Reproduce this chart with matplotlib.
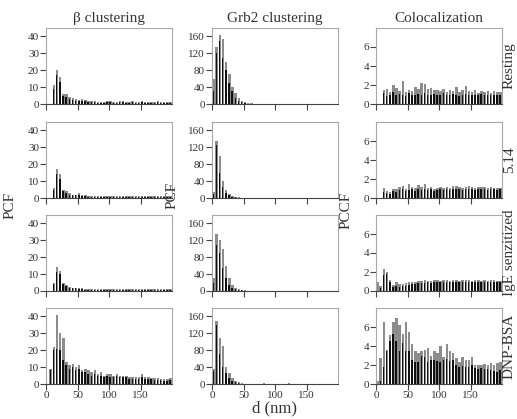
import numpy as np
import matplotlib
matplotlib.use("Agg")
import matplotlib.pyplot as plt

plt.rcParams["font.family"] = ["Liberation Serif", "DejaVu Serif"]

# distance bins (nm), 5 nm wide
bin_width = 5
d_centers = np.arange(2.5, 200, bin_width)

col_titles = ["\u03b2 clustering", "Grb2 clustering", "Colocalization"]
row_names = ["Resting", "5.14", "IgE senzitized", "DNP-BSA"]
col_ylims = [45, 180, 8]
col_yticks = [[0, 10, 20, 30, 40], [0, 40, 80, 120, 160], [0, 2, 4, 6]]
x_ticks = [0, 50, 100, 150]

# ---- beta clustering (PCF) ----
beta_rest = [0, 0, 9, 17, 13, 5, 4, 3, 2.5, 2, 1.5, 2, 1.5, 1, 1, 1, 0.8, 0.8, 0.8, 1,
             1, 0.8, 0.8, 1, 1, 0.8, 0.8, 1, 0.8, 0.8, 1, 0.8, 0.8, 0.8, 0.8, 1, 0.8, 0.8, 0.8, 0.8]
beta_rest_hi = [0, 0, 11, 20, 16, 6, 6, 4, 3.5, 3, 2.5, 3, 2.5, 1.5, 1.5, 1.5, 1.2, 1.2, 1.2, 1.5,
                1.5, 1.2, 1.2, 1.5, 1.5, 1.2, 1.2, 1.5, 1.2, 1.2, 1.5, 1.2, 1.2, 1.2, 1.2, 1.5, 1.2, 1.2, 1.2, 1.2]
beta_514 = [0, 0, 5, 14, 11, 4, 3, 2, 1.5, 1.5, 2, 1, 1, 0.8, 0.8, 0.8, 0.8, 0.7, 0.8, 0.8,
            0.7, 0.8, 0.8, 0.7, 0.8, 0.8, 0.7, 0.8, 0.8, 0.7, 0.8, 0.8, 0.7, 0.8, 0.8, 0.7, 0.8, 0.8, 0.7, 0.8]
beta_514_hi = [0, 0, 6, 17, 14, 5, 4, 3, 2, 2, 3, 1.5, 1.5, 1.2, 1.2, 1.2, 1.1, 1.1, 1.2, 1.1,
               1.1, 1.2, 1.1, 1.1, 1.2, 1.1, 1.1, 1.2, 1.1, 1.1, 1.2, 1.1, 1.1, 1.2, 1.1, 1.1, 1.2, 1.1, 1.1, 1.2]
beta_ige = [0, 0, 4, 11, 10, 4, 3, 2, 1.5, 1.5, 1, 1, 0.8, 0.8, 0.8, 0.7, 0.8, 0.7, 0.8, 0.7,
            0.8, 0.7, 0.8, 0.7, 0.8, 0.7, 0.8, 0.7, 0.8, 0.7, 0.8, 0.7, 0.8, 0.7, 0.8, 0.7, 0.8, 0.7, 0.8, 0.7]
beta_ige_hi = [0, 0, 5, 14, 12, 5, 3.5, 2.5, 2, 2, 1.5, 1.5, 1.2, 1.2, 1.1, 1.1, 1.2, 1.1, 1.1, 1.1,
               1.2, 1.1, 1.1, 1.1, 1.2, 1.1, 1.1, 1.1, 1.2, 1.1, 1.1, 1.1, 1.2, 1.1, 1.1, 1.1, 1.2, 1.1, 1.1, 1.1]
beta_dnp = [0, 8, 20, 21, 20, 14, 11, 9, 10, 8, 9, 7, 7, 6, 5, 6, 5, 5, 4, 5,
            4, 4, 5, 4, 4, 4, 3, 3, 3, 3, 4, 3, 3, 3, 2.5, 2.5, 2.5, 2, 2, 2.5]
beta_dnp_hi = [0, 9, 22, 41, 30, 27, 13, 11, 12, 10, 11, 8, 9, 8, 7, 8, 6, 7, 5, 6,
               6, 5, 6, 5, 5, 5, 4, 4, 4, 4, 6, 4, 4, 3.5, 3.5, 3.5, 3, 3, 3, 3.5]

# ---- Grb2 clustering (PCF) ----
grb2_rest = [30, 120, 150, 110, 80, 50, 30, 15, 8, 4, 2, 1, 1, 0.5, 0.5, 0.5, 0.5, 0.5, 0.5, 0.5,
             0.5, 0.5, 0.5, 0.5, 0.5, 0.5, 0.5, 0.5, 0.5, 0.5, 0.5, 0.5, 0.5, 0.5, 0.5, 0.5, 0.5, 0.5, 0.5, 0.5]
grb2_rest_hi = [60, 135, 163, 155, 100, 70, 40, 25, 15, 8, 5, 3, 2, 1, 1, 1, 1, 1, 1, 1,
                1, 1, 1, 1, 1, 1, 1, 1, 1, 1, 1, 1, 1, 1, 1, 1, 1, 1, 1, 1]
grb2_514 = [10, 125, 60, 25, 12, 6, 3, 2, 1, 0.5, 0.5, 0.5, 0.5, 0.5, 0.5, 0.5, 0.5, 0.5, 0.5, 0.5,
            0.5, 0.5, 0.5, 0.5, 0.5, 0.5, 0.5, 0.5, 0.5, 0.5, 0.5, 0.5, 0.5, 0.5, 0.5, 0.5, 0.5, 0.5, 0.5, 0.5]
grb2_514_hi = [15, 135, 100, 40, 20, 10, 5, 3, 2, 1, 1, 1, 1, 1, 1, 1, 1, 1, 1, 1,
               1, 1, 1, 1, 1, 1, 1, 1, 1, 1, 1, 1, 1, 1, 1, 1, 1, 1, 1, 1]
grb2_ige = [20, 110, 90, 55, 30, 15, 8, 4, 3, 2, 1, 0.5, 0.5, 0.5, 0.5, 0.5, 0.5, 0.5, 0.5, 0.5,
            0.5, 0.5, 0.5, 0.5, 0.5, 0.5, 0.5, 0.5, 0.5, 0.5, 0.5, 0.5, 0.5, 0.5, 0.5, 0.5, 0.5, 0.5, 0.5, 0.5]
grb2_ige_hi = [30, 135, 120, 100, 60, 30, 15, 8, 5, 3, 2, 1, 1, 1, 1, 1, 1, 1, 1, 1,
               1, 1, 1, 1, 1, 1, 1, 1, 1, 1, 1, 1, 1, 1, 1, 1, 1, 1, 1, 1]
grb2_dnp = [30, 140, 70, 40, 25, 15, 8, 5, 3, 1, 0.5, 0.5, 0.5, 0.5, 0.5, 0.5, 0.5, 0.5, 0.5, 0.5,
            0.5, 0.5, 0.5, 0.5, 0.5, 0.5, 0.5, 0.5, 0.5, 0.5, 0.5, 0.5, 0.5, 0.5, 0.5, 0.5, 0.5, 0.5, 0.5, 0.5]
grb2_dnp_hi = [35, 150, 110, 90, 40, 25, 15, 8, 5, 3, 1, 1, 1, 1, 1, 1, 2, 1, 1, 1,
               1, 1, 1, 1, 2, 1, 1, 1, 1, 1, 1, 1, 1, 1, 1, 1, 1, 1, 1, 1]

# ---- colocalization (PCCF) ----
coloc_rest = [0, 0, 1.2, 0.8, 1.0, 1.3, 0.9, 1.1, 1.0, 0.8, 1.2, 1.0, 0.9, 1.1, 1.0, 1.2, 0.9, 1.0, 1.1, 0.9,
              1.0, 1.2, 1.0, 0.9, 1.1, 1.0, 0.8, 1.0, 1.1, 0.9, 1.0, 1.0, 0.9, 1.1, 1.0, 0.9, 1.0, 0.9, 1.0, 0.9]
coloc_rest_hi = [0, 0, 1.5, 1.6, 1.3, 2.0, 1.7, 1.4, 2.4, 1.3, 1.5, 1.4, 1.8, 1.6, 2.2, 2.1, 1.6, 1.7, 1.5, 1.5,
                 1.4, 1.6, 1.3, 1.5, 1.4, 1.8, 1.3, 1.5, 1.9, 1.4, 1.3, 1.5, 1.2, 1.4, 1.3, 1.4, 1.2, 1.4, 1.3, 1.3]
coloc_514 = [0, 0, 0.6, 0.5, 0.4, 0.7, 0.6, 0.8, 0.9, 0.7, 0.8, 0.9, 0.7, 0.9, 0.8, 1.0, 0.8, 0.9, 0.7, 0.8,
             0.9, 0.8, 0.9, 0.8, 0.9, 1.0, 0.9, 0.8, 0.9, 1.0, 0.9, 0.8, 0.9, 1.0, 0.9, 0.8, 0.9, 0.9, 0.8, 0.9]
coloc_514_hi = [0, 0, 1.1, 0.7, 0.6, 0.9, 1.0, 1.2, 1.3, 1.0, 1.5, 1.2, 1.1, 1.4, 1.2, 1.5, 1.1, 1.2, 1.0, 1.1,
                1.2, 1.1, 1.2, 1.1, 1.3, 1.3, 1.2, 1.1, 1.2, 1.3, 1.2, 1.1, 1.2, 1.2, 1.2, 1.1, 1.2, 1.1, 1.1, 1.1]
coloc_ige = [0, 0.3, 1.7, 1.8, 0.9, 0.4, 0.5, 0.4, 0.5, 0.5, 0.6, 0.7, 0.7, 0.8, 0.8, 0.8, 0.9, 0.8, 0.9, 0.9,
             0.9, 0.9, 0.9, 0.9, 1.0, 0.9, 0.9, 0.9, 1.0, 0.9, 0.9, 0.9, 1.0, 0.9, 0.9, 0.9, 0.9, 1.0, 0.9, 0.9]
coloc_ige_hi = [1.0, 0.5, 2.3, 2.0, 1.2, 0.6, 0.9, 0.7, 0.7, 0.8, 0.9, 1.0, 1.0, 1.1, 1.1, 1.2, 1.1, 1.1, 1.2, 1.2,
                1.1, 1.2, 1.2, 1.1, 1.2, 1.2, 1.1, 1.2, 1.2, 1.2, 1.1, 1.2, 1.2, 1.1, 1.2, 1.1, 1.2, 1.2, 1.1, 1.1]
coloc_dnp = [0, 0.3, 1.8, 3.5, 4.5, 5.3, 4.5, 3.5, 4.3, 3.5, 3.5, 2.5, 2.3, 2.3, 3.0, 2.8, 2.3, 2.5, 2.5, 2.4,
             2.3, 2.5, 2.6, 2.4, 2.5, 2.0, 1.8, 1.9, 1.8, 1.8, 2.0, 1.7, 1.6, 1.7, 1.6, 1.6, 1.5, 1.4, 1.3, 1.5]
coloc_dnp_hi = [0.3, 2.7, 6.5, 3.6, 5.2, 6.5, 7.0, 6.2, 5.3, 6.5, 5.5, 4.2, 3.5, 3.3, 3.5, 3.6, 3.8, 3.0, 3.5, 3.3,
                4.0, 2.8, 4.2, 3.5, 3.3, 2.7, 2.3, 2.8, 2.5, 2.5, 2.8, 2.0, 2.0, 2.0, 2.1, 2.0, 2.2, 2.0, 2.2, 2.3]

panels = [
    [(beta_rest, beta_rest_hi), (grb2_rest, grb2_rest_hi), (coloc_rest, coloc_rest_hi)],
    [(beta_514, beta_514_hi), (grb2_514, grb2_514_hi), (coloc_514, coloc_514_hi)],
    [(beta_ige, beta_ige_hi), (grb2_ige, grb2_ige_hi), (coloc_ige, coloc_ige_hi)],
    [(beta_dnp, beta_dnp_hi), (grb2_dnp, grb2_dnp_hi), (coloc_dnp, coloc_dnp_hi)],
]

fig = plt.figure(figsize=(5.17, 4.19), dpi=100)

W, H = 517, 419
col_left = [46, 212, 376]
col_width = 126
row_top = [28, 122, 215, 308]
row_height = 76

frame_col = "#a8a8a8"
text_col = "#333333"

for r in range(4):
    for c in range(3):
        ax = fig.add_axes([col_left[c] / W, 1 - (row_top[r] + row_height) / H,
                           col_width / W, row_height / H])
        mean, upper = panels[r][c]
        ax.bar(d_centers, upper, width=bin_width * 0.8, color="#8c8c8c", linewidth=0)
        ax.bar(d_centers - bin_width * 0.1, mean, width=bin_width * 0.5,
               color="#111111", linewidth=0)
        ax.set_xlim(0, 200)
        ax.set_ylim(0, col_ylims[c])
        ax.set_xticks(x_ticks)
        ax.set_yticks(col_yticks[c])
        for s in ["top", "right", "left"]:
            ax.spines[s].set_color(frame_col)
        ax.spines["bottom"].set_color("#444444")
        ax.tick_params(direction="out", length=4, width=0.8, color="#444444",
                       labelsize=8, labelcolor=text_col, pad=1)
        if r < 3:
            ax.tick_params(axis="x", labelbottom=False)
        if r == 0:
            ax.set_title(col_titles[c], fontsize=11, color=text_col, pad=4)
        if c == 2:
            ax.text(1.005, 0.5, row_names[r], transform=ax.transAxes, rotation=90,
                    ha="left", va="center", fontsize=11, color=text_col)
        if r == 3 and c == 1:
            ax.set_xlabel("d (nm)", fontsize=12, color=text_col, labelpad=0)

fig.text(10 / W, 1 - 205 / H, "PCF", rotation=90, ha="center", va="center",
         fontsize=11, color=text_col)
fig.text(172 / W, 1 - 195 / H, "PCF", rotation=90, ha="center", va="center",
         fontsize=11, color=text_col)
fig.text(346 / W, 1 - 210 / H, "PCCF", rotation=90, ha="center", va="center",
         fontsize=11, color=text_col)

fig.savefig("out.png", dpi=100)
